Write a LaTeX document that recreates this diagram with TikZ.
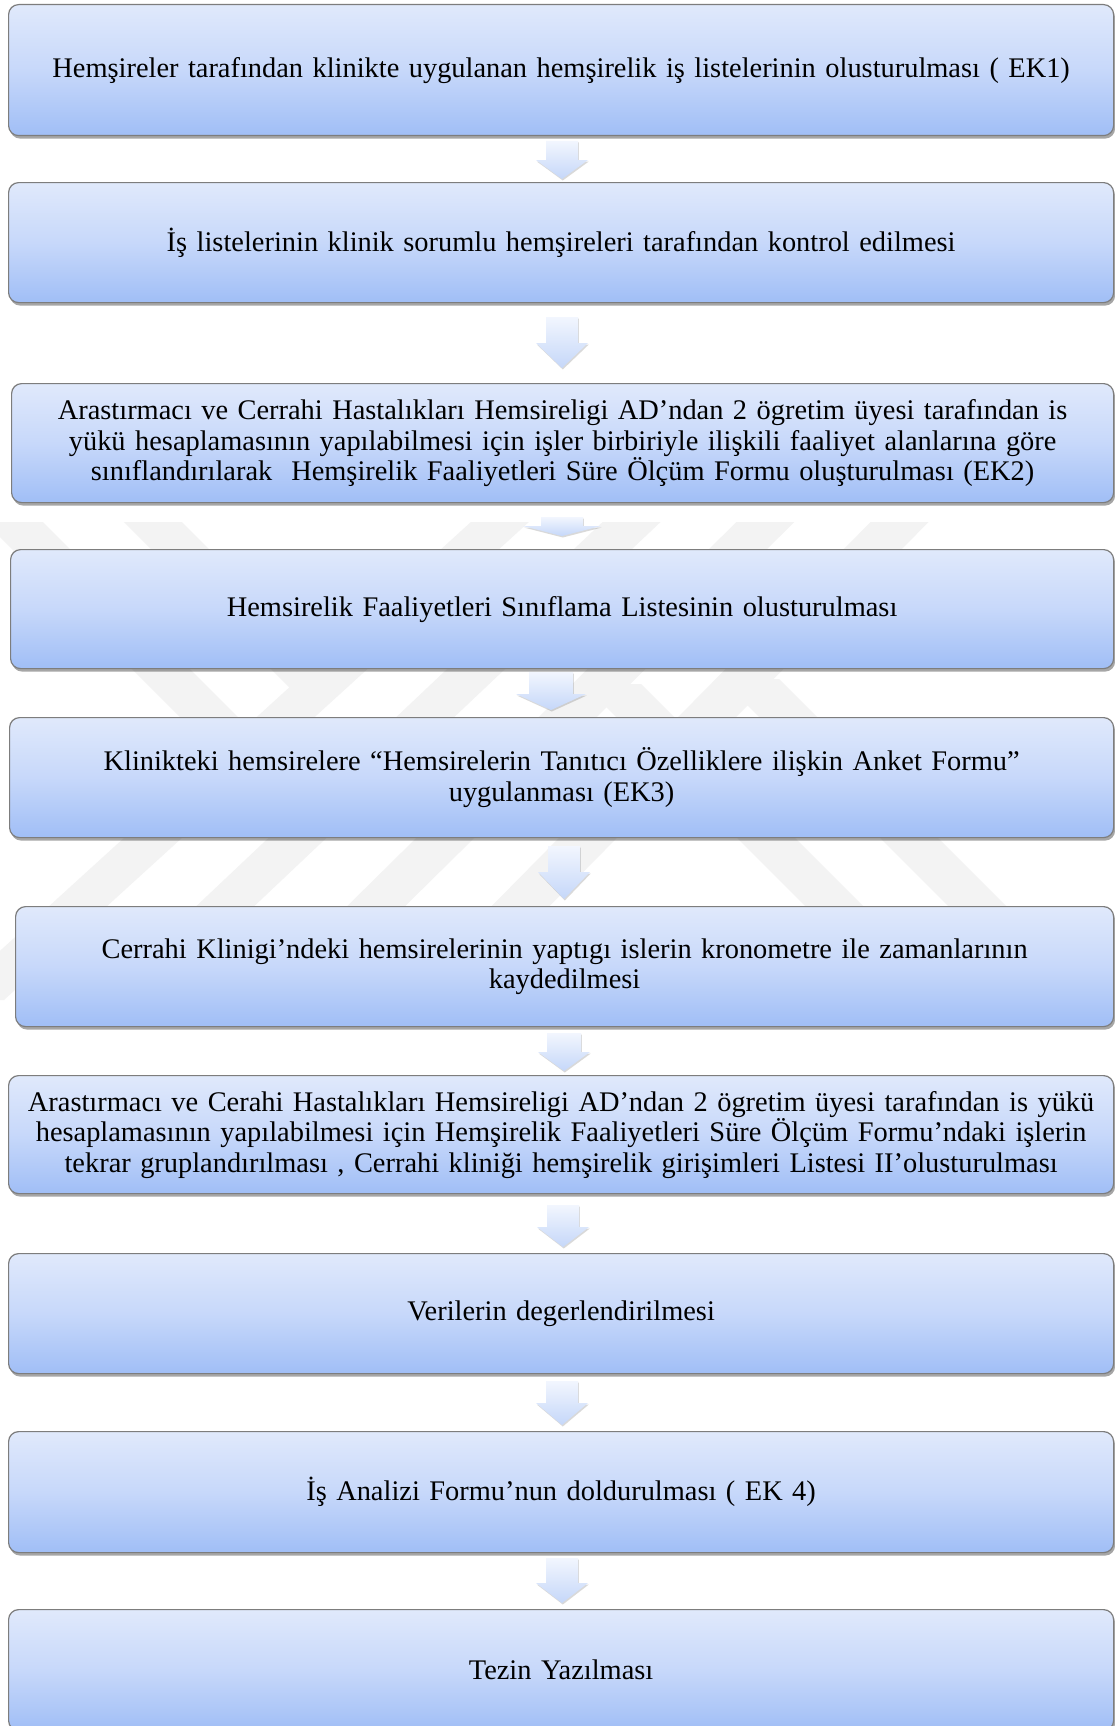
\documentclass[tikz,border=0pt]{standalone}
\usepackage{fontspec}
\setmainfont{Liberation Serif}
\usetikzlibrary{shadows,calc}
\definecolor{boxtop}{RGB}{224,233,251}
\definecolor{boxmid}{RGB}{199,216,250}
\definecolor{boxbot}{RGB}{160,190,246}
\definecolor{boxline}{RGB}{125,125,125}
\definecolor{arrtop}{RGB}{242,246,254}
\definecolor{arrbot}{RGB}{197,215,249}
\definecolor{wmark}{RGB}{243,243,243}
\tikzset{
  flowbox/.style={draw=boxline, line width=1.2pt, rounded corners=10pt,
    top color=boxtop, bottom color=boxbot, middle color=boxmid,
    anchor=north west, inner sep=0pt, minimum width=1105pt,
    text width=1095pt, align=center,
    font=\fontsize{28.4}{30.5}\selectfont,
    drop shadow={shadow xshift=1.5pt, shadow yshift=-3pt, opacity=0.35, fill=black}},
  flowarrow/.style={top color=arrtop, bottom color=arrbot, draw=none,
    drop shadow={shadow xshift=0.8pt, shadow yshift=-1.5pt, opacity=0.15, fill=black}},
  wmband/.style={fill=wmark, draw=none}
}
% #1 name, #2 cx, #3 ytop, #4 yhead, #5 ytip, #6 shaft half width, #7 head half width
\newcommand\myflowarrow[7]{%
  \coordinate (#1) at (#2,#3);
  \path[flowarrow] ($(#1)+(-#6,0)$) -- ($(#1)+(#6,0)$) -- (#2+#6,#4) -- (#2+#7,#4)
     -- (#2,#5) -- (#2-#7,#4) -- (#2-#6,#4) -- cycle;}
% band: x at y=480, x at y=1000 (or given ys)
\newcommand\wmbandfill[4]{%
  \fill[wmband] (#1-29,#3) -- (#1+29,#3) -- (#2+29,#4) -- (#2-29,#4) -- cycle;}
\begin{document}
\begin{tikzpicture}[x=1pt,y=-1pt]
\fill[white] (0,0) rectangle (1115,1726);
\useasboundingbox (0,0) rectangle (1115,1726);
% watermark
\begin{scope}
\clip (0,522) rectangle (1115,1000);
\wmbandfill{546}{-25}{480}{1000}
\wmbandfill{676}{126}{480}{1000}
\wmbandfill{808}{281}{480}{1000}
\wmbandfill{941}{428}{480}{1000}
\wmbandfill{-28}{247}{480}{755}
\wmbandfill{111}{318}{480}{687}
\wmbandfill{612}{928}{684}{1000}
\wmbandfill{750}{1071}{679}{1000}
\end{scope}
% boxes
\node[flowbox, minimum height=131pt] (b1) at (8,4) {Hemşireler tarafından klinikte uygulanan hemşirelik iş listelerinin olusturulması ( EK1)};
\node[flowbox, minimum height=120pt] (b2) at (8,182) {İş listelerinin klinik sorumlu hemşireleri tarafından kontrol edilmesi};
\node[flowbox, minimum height=119pt, minimum width=1102pt] (b3) at (11,383) {Arastırmacı ve Cerrahi Hastalıkları Hemsireligi AD’ndan 2 ögretim üyesi tarafından is\\ yükü hesaplamasının yapılabilmesi için işler birbiriyle ilişkili faaliyet alanlarına göre\\ sınıflandırılarak\ \ Hemşirelik Faaliyetleri Süre Ölçüm Formu oluşturulması (EK2)};
\node[flowbox, minimum height=119pt, minimum width=1103pt] (b4) at (10,549) {Hemsirelik Faaliyetleri Sınıflama Listesinin olusturulması};
\node[flowbox, minimum height=120pt, minimum width=1104pt] (b5) at (9,717) {Klinikteki hemsirelere “Hemsirelerin Tanıtıcı Özelliklere ilişkin Anket Formu”\\ uygulanması (EK3)};
\node[flowbox, minimum height=120pt, minimum width=1098pt] (b6) at (15,906) {Cerrahi Klinigi’ndeki hemsirelerinin yaptıgı islerin kronometre ile zamanlarının\\ kaydedilmesi};
\node[flowbox, minimum height=118pt] (b7) at (8,1075) {Arastırmacı ve Cerahi Hastalıkları Hemsireligi AD’ndan 2 ögretim üyesi tarafından is yükü\\ hesaplamasının yapılabilmesi için Hemşirelik Faaliyetleri Süre Ölçüm Formu’ndaki işlerin\\ tekrar gruplandırılması , Cerrahi kliniği hemşirelik girişimleri Listesi II’olusturulması};
\node[flowbox, minimum height=120pt] (b8) at (8,1253) {Verilerin degerlendirilmesi};
\node[flowbox, minimum height=121pt] (b9) at (8,1431) {İş Analizi Formu’nun doldurulması ( EK 4)};
\node[flowbox, minimum height=121pt] (b10) at (8,1609) {Tezin Yazılması};
% arrows
\myflowarrow{a1}{562}{141}{160}{179}{16}{26}
\myflowarrow{a2}{562}{317}{343}{368}{16}{26}
\myflowarrow{a3}{562}{517}{526}{536}{21}{39}
\myflowarrow{a4}{551}{672}{694}{710}{22}{35}
\myflowarrow{a5}{564}{846}{872}{899}{16}{26}
\myflowarrow{a6}{564}{1033}{1052}{1071}{17}{26}
\myflowarrow{a7}{563}{1205}{1227}{1247}{16}{26}
\myflowarrow{a8}{562}{1381}{1403}{1425}{16}{26}
\myflowarrow{a9}{562}{1558}{1583}{1603}{16}{26}
\end{tikzpicture}
\end{document}
